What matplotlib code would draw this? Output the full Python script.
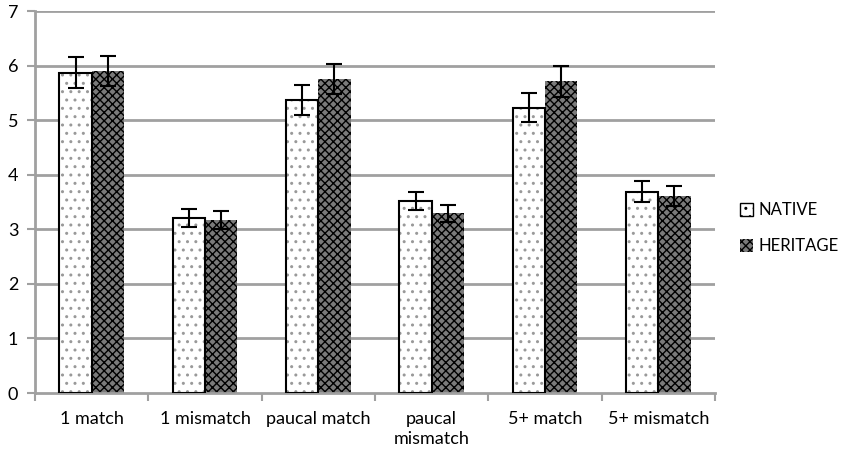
import matplotlib
matplotlib.use("Agg")
import matplotlib.pyplot as plt
import numpy as np
from matplotlib.patches import Patch

categories = ["1 match", "1 mismatch", "paucal match", "paucal\nmismatch", "5+ match", "5+ mismatch"]
native = [5.87, 3.21, 5.37, 3.52, 5.23, 3.69]
native_err = [0.28, 0.16, 0.27, 0.16, 0.26, 0.19]
heritage = [5.90, 3.17, 5.75, 3.29, 5.71, 3.61]
heritage_err = [0.28, 0.16, 0.27, 0.16, 0.28, 0.19]
yticks = [0, 1, 2, 3, 4, 5, 6, 7]

plt.rcParams['font.family'] = ['Lato', 'DejaVu Sans']
plt.rcParams['hatch.linewidth'] = 1.0

fig = plt.figure(figsize=(8.51, 4.57), dpi=100)
ax = fig.add_axes([35/851, 1-393/457, 680/851, 382/457])

x = np.arange(len(categories))
w = 0.285
grid_c = '#a0a0a0'

for v in yticks[1:]:
    ax.axhline(v, color=grid_c, lw=2, zorder=0)

# native bars
ax.bar(x - w/2, native, w, color='white', hatch='..', edgecolor='#999999', linewidth=0, zorder=2)
ax.bar(x - w/2, native, w, fill=False, edgecolor='black', linewidth=1.5, zorder=3)
# heritage bars
ax.bar(x + w/2, heritage, w, color='#7a7a7a', hatch='xxxx', edgecolor='black', linewidth=0, zorder=2)

ax.errorbar(x - w/2, native, yerr=native_err, fmt='none', ecolor='black', elinewidth=1.5, capsize=6, capthick=1.5, zorder=4)
ax.errorbar(x + w/2, heritage, yerr=heritage_err, fmt='none', ecolor='black', elinewidth=1.5, capsize=6, capthick=1.5, zorder=4)

ax.set_xlim(-0.5, len(categories) - 0.5)
ax.set_ylim(0, 7)
ax.set_yticks(yticks)
ax.set_yticklabels([str(v) for v in yticks], fontsize=13)

ax.set_xticks(x)
ax.set_xticklabels(categories, fontsize=13, va='top', linespacing=1.3)
ax.tick_params(axis='x', length=0, pad=13)
ax.set_xticks(np.arange(len(categories) + 1) - 0.5, minor=True)
ax.tick_params(axis='x', which='minor', length=6, color=grid_c, width=1.5, direction='out')
ax.tick_params(axis='y', length=6, color=grid_c, width=1.5, direction='out', pad=6)

for s in ['top', 'right']:
    ax.spines[s].set_visible(False)
ax.spines['left'].set_color(grid_c)
ax.spines['left'].set_linewidth(2)
ax.spines['bottom'].set_color(grid_c)
ax.spines['bottom'].set_linewidth(2)
ax.spines['left'].set_zorder(1)

handles = [Patch(facecolor='white', edgecolor='black', hatch='..', linewidth=1.0),
           Patch(facecolor='#7a7a7a', edgecolor='black', hatch='xxxx', linewidth=0)]
fig.legend(handles, ['NATIVE', 'HERITAGE'], loc='center left', bbox_to_anchor=(740/851, 1-228/457),
           frameon=False, fontsize=12, handlelength=0.8, handleheight=0.8, handletextpad=0.3,
           labelspacing=1.2, borderaxespad=0, borderpad=0)

fig.savefig("out.png", dpi=100)
